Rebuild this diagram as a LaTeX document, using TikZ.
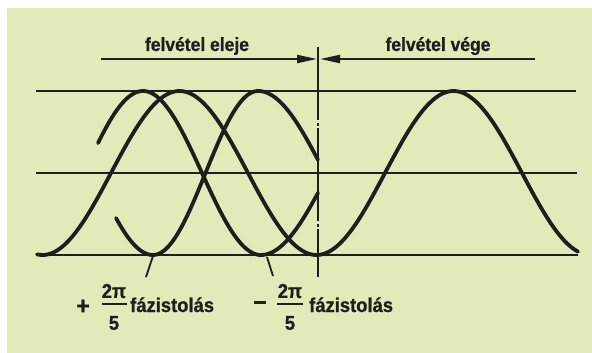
\documentclass[tikz,border=0pt]{standalone}
\usepackage{fontspec}
\setmainfont{Liberation Sans}
\newfontfamily\lblfont{Liberation Sans Bold}[FakeStretch=0.92,FakeBold=0.8]
\usetikzlibrary{arrows.meta}
\definecolor{bg}{RGB}{227,234,186}
\definecolor{ink}{RGB}{30,30,28}
\begin{document}
\begin{tikzpicture}[x=1pt,y=-1pt,
  guide/.style={ink, line width=1.8pt},
  wave/.style={ink, line width=3.8pt, line cap=round, line join=round},
  tickline/.style={ink, line width=1.8pt},
  fracbar/.style={ink, line width=2.2pt},
  arrowline/.style={ink, line width=2.2pt, -{Triangle[length=20pt,width=8pt]}},
  lbl/.style={font=\lblfont\fontsize{19}{21}\selectfont, text=ink, inner sep=0pt},
  lblb/.style={font=\lblfont\fontsize{20}{22}\selectfont, text=ink, inner sep=0pt},
  sign/.style={font=\lblfont\fontsize{25}{27}\selectfont, text=ink, inner sep=0pt}]
\useasboundingbox (0,0) rectangle (592,353);
\fill[white] (0,0) rectangle (592,353);
\fill[bg] (7,8) rectangle (592,353);

% reference lines
\coordinate (t1) at (36,91);  \coordinate (t2) at (576,91);
\coordinate (m1) at (36,173); \coordinate (m2) at (577,173);
\coordinate (b1) at (36,255); \coordinate (b2) at (578,255);
\draw[guide] (t1) -- (t2);
\draw[guide] (m1) -- (m2);
\draw[guide] (b1) -- (b2);

% vertical dash-dot line
\coordinate (v1) at (318,47); \coordinate (v2) at (318,277);
\draw[guide, dash pattern=on 73pt off 2.5pt on 3pt off 2.5pt on 93pt off 2.5pt on 3pt off 2.5pt on 60pt] (v1) -- (v2);

% arrows
\coordinate (al) at (101,59); \coordinate (alt) at (317,59);
\coordinate (ar) at (535,59); \coordinate (art) at (320,59);
\draw[arrowline] (al) -- (alt);
\draw[arrowline] (ar) -- (art);

% top labels
\node[lbl, anchor=base] (eleje) at (197,51) {felvétel eleje};
\node[lbl, anchor=base] (vege) at (438,51) {felvétel vége};

% main wave A
\draw[wave] plot[domain=37:578, samples=220] (\x, {173-82*cos(((\x-179.5)/68.5)*90)});
% wave B
\draw[wave] plot[domain=98:261, samples=80] (\x, {173-82*cos(((\x-143)/59)*90)})
  -- plot[domain=261:318, samples=30] (\x, {173+82*cos(((\x-261)/67.5)*90)});
% wave C
\draw[wave] plot[domain=116:153, samples=20] (\x, {173+82*cos(((\x-153)/58.7)*90)})
  -- plot[domain=153:258, samples=50] (\x, {173+82*cos(((\x-153)/52.5)*90)})
  -- plot[domain=258:318, samples=30] (\x, {173-82*cos(((\x-258)/66.8)*90)});

% ticks
\coordinate (k1a) at (153,256); \coordinate (k1b) at (146,277);
\coordinate (k2a) at (267,257); \coordinate (k2b) at (273,276);
\draw[tickline] (k1a) -- (k1b);
\draw[tickline] (k2a) -- (k2b);

% bottom labels
\node[sign] (plus) at (83,307) {+};
\node[lblb] (num1) at (114,291) {2π};
\node[lblb] (den1) at (114,323) {5};
\coordinate (f1a) at (102,304); \coordinate (f1b) at (127,304);
\draw[fracbar] (f1a) -- (f1b);
\node[lblb, anchor=base west] (txt1) at (130,312) {fázistolás};

\node[sign] (minus) at (260,306) {−};
\node[lblb] (num2) at (290,291) {2π};
\node[lblb] (den2) at (290,323) {5};
\coordinate (f2a) at (277,304); \coordinate (f2b) at (303,304);
\draw[fracbar] (f2a) -- (f2b);
\node[lblb, anchor=base west] (txt2) at (309,312) {fázistolás};
\end{tikzpicture}
\end{document}
